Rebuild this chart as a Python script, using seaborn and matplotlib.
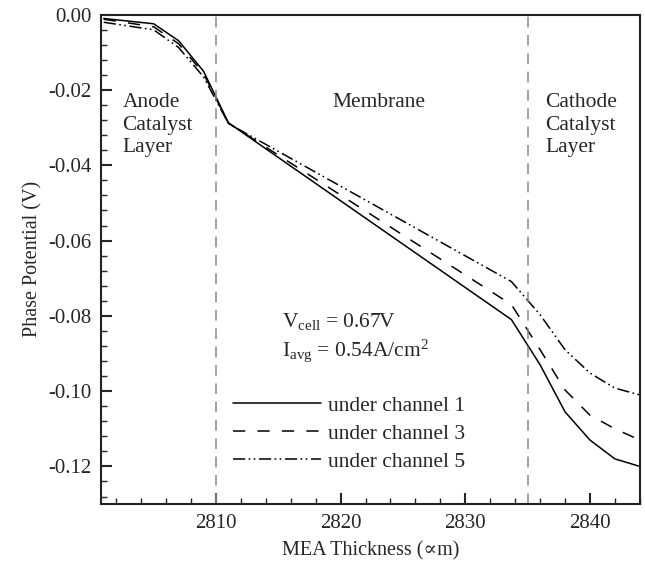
import numpy as np
import pandas as pd
import matplotlib
matplotlib.use("Agg")
import matplotlib.pyplot as plt
from matplotlib.ticker import MultipleLocator, FormatStrFormatter
import seaborn as sns

# Data
thickness = [2801, 2805, 2807, 2809, 2811, 2833.7, 2836, 2838, 2840, 2842, 2844]
ch1 = [-0.0010, -0.0024, -0.0069, -0.0150, -0.0287, -0.0810, -0.0930, -0.1055, -0.1130, -0.1180, -0.1200]
ch3 = [-0.0012, -0.0032, -0.0077, -0.0156, -0.0288, -0.0770, -0.0890, -0.0997, -0.1064, -0.1100, -0.1130]
ch5 = [-0.0020, -0.0040, -0.0087, -0.0165, -0.0289, -0.0709, -0.0797, -0.0890, -0.0952, -0.0992, -0.1010]
labels = ["under channel 1", "under channel 3", "under channel 5"]
boundaries = [2810, 2835]

sns.set_style("ticks")
plt.rcParams["font.family"] = ["Liberation Serif", "DejaVu Serif"]
plt.rcParams["axes.unicode_minus"] = False
plt.rcParams["mathtext.fontset"] = "custom"
plt.rcParams["mathtext.rm"] = "Liberation Serif"
plt.rcParams["mathtext.it"] = "Liberation Serif:italic"

df = pd.DataFrame({
    "x": thickness * 3,
    "y": ch1 + ch3 + ch5,
    "series": [labels[0]] * len(thickness) + [labels[1]] * len(thickness) + [labels[2]] * len(thickness),
})

fig = plt.figure(figsize=(6.45, 5.67), dpi=100)
ax = fig.add_axes([0.157, 0.111, 0.835, 0.863])

dash3 = (8, 8)
dash5 = (8, 2.2, 1.1, 2.2, 1.1, 2.4)
dashes = {labels[0]: "", labels[1]: dash3, labels[2]: dash5}
sns.lineplot(data=df, x="x", y="y", style="series", dashes=dashes, color="black",
             linewidth=1.1, ax=ax, legend=False, sort=False)

for b in boundaries:
    ax.axvline(b, color="#888888", linestyle=(0, (7, 5)), linewidth=1.1)

ax.set_xlim(2800.8, 2844)
ax.set_ylim(-0.13, 0.0)
ax.xaxis.set_major_locator(MultipleLocator(10))
ax.xaxis.set_minor_locator(MultipleLocator(2))
ax.yaxis.set_major_locator(MultipleLocator(0.02))
ax.yaxis.set_minor_locator(MultipleLocator(0.004))
ax.yaxis.set_major_formatter(FormatStrFormatter("%.2f"))
ax.tick_params(which="major", direction="in", length=8, width=1.5, labelsize=15,
               top=False, right=False, pad=7)
ax.tick_params(which="minor", direction="in", length=4, width=1.0, top=False, right=False)
for s in ax.spines.values():
    s.set_linewidth(1.5)
    s.set_color("#222222")

ax.set_xlabel("MEA Thickness (\u221dm)", fontsize=14.5, labelpad=6)
ax.set_ylabel("Phase Potential (V)", fontsize=14.5, labelpad=4)

fs = 15.5
ax.text(2802.5, -0.0208, "Anode\nCatalyst\nLayer", fontsize=fs, va="top", ha="left", linespacing=1.25)
ax.text(2823.1, -0.0232, "Membrane", fontsize=fs, va="center", ha="center")
ax.text(2836.4, -0.0208, "Cathode\nCatalyst\nLayer", fontsize=fs, va="top", ha="left", linespacing=1.25)
ax.text(2815.3, -0.0816, r"V$_{\mathrm{cell}}$ = 0.67V", fontsize=fs, va="center", ha="left")
ax.text(2815.3, -0.0893, r"I$_{\mathrm{avg}}$ = 0.54A/cm$^{2}$", fontsize=fs, va="center", ha="left")

handles = [plt.Line2D([], [], color="black", linewidth=1.1, linestyle="-"),
           plt.Line2D([], [], color="black", linewidth=1.1, linestyle=(0, dash3)),
           plt.Line2D([], [], color="black", linewidth=1.1, linestyle=(0, dash5))]
ax.legend(handles, labels, loc="upper left", bbox_to_anchor=(0.244, 0.221), frameon=False,
          fontsize=fs, handlelength=4.1, handletextpad=0.35, borderpad=0, borderaxespad=0,
          labelspacing=0.36)

fig.savefig("out.png", dpi=100)
